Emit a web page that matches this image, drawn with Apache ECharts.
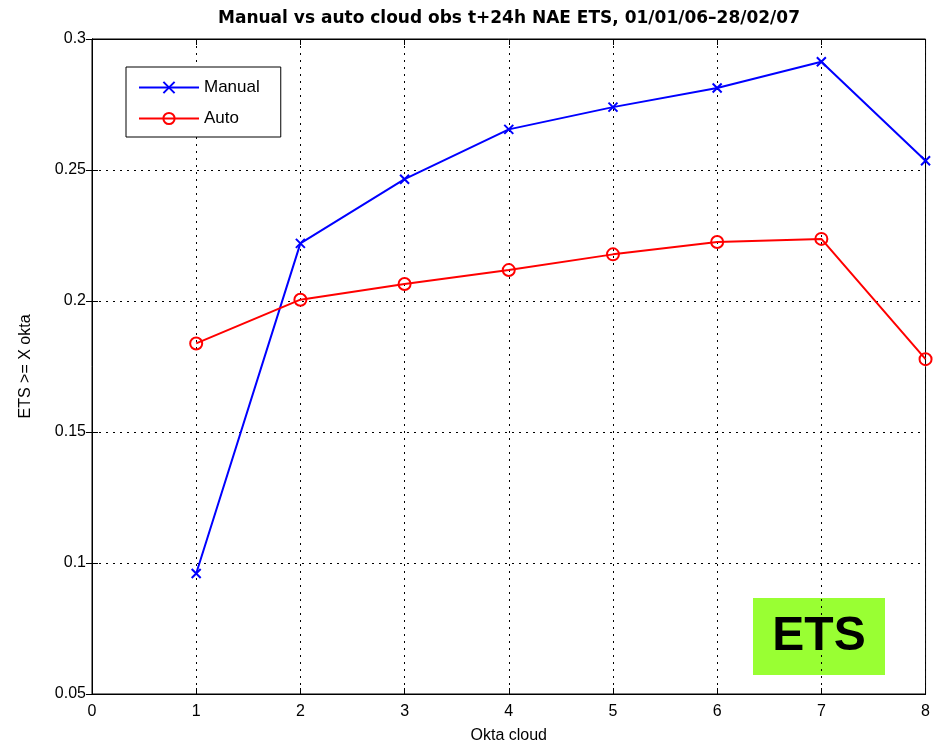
<!DOCTYPE html>
<html>
<head>
<meta charset="utf-8">
<script src="https://cdn.jsdelivr.net/npm/echarts@6/dist/echarts.min.js"></script>
<style>html,body{margin:0;padding:0;background:#fff;overflow:hidden}#c{width:933px;height:749px}</style>
</head>
<body>
<div id="c"></div>
<script>
const oktas = [1, 2, 3, 4, 5, 6, 7, 8];
const manual = [0.096, 0.222, 0.2465, 0.2655, 0.274, 0.2813, 0.2913, 0.2535];
const auto = [0.1838, 0.2005, 0.2065, 0.2118, 0.2178, 0.2225, 0.2237, 0.1778];
const yTicks = ['0.05', '0.1', '0.15', '0.2', '0.25', '0.3'];

const chart = echarts.init(document.getElementById('c'), null, {renderer: 'canvas', width: 933, height: 749});
const font = 'Liberation Sans, Arial, sans-serif';
const gridLine = {show: true, lineStyle: {color: '#000', type: [2, 5], width: 1}};
chart.setOption({
  backgroundColor: '#fff',
  animation: false,
  title: {
    text: 'Manual vs auto cloud obs t+24h NAE ETS, 01/01/06\u201328/02/07',
    left: 504, top: 5, textAlign: 'center',
    textStyle: {fontFamily: 'DejaVu Sans, sans-serif', fontWeight: 'bold', fontSize: 17, color: '#000'}
  },
  grid: {left: 92, right: 5, top: 39, bottom: 52, show: true, borderColor: '#000', borderWidth: 1, backgroundColor: '#fff'},
  legend: {
    orient: 'vertical', left: 126, top: 67,
    padding: [12, 21, 10, 12], itemGap: 14, itemWidth: 60, itemHeight: 14,
    borderColor: '#000', borderWidth: 1, backgroundColor: '#fff',
    textStyle: {fontFamily: font, fontSize: 17, color: '#000'},
    data: ['Manual', 'Auto']
  },
  xAxis: [{
    type: 'value', min: 0, max: 8, interval: 1, position: 'bottom',
    name: 'Okta cloud', nameLocation: 'middle', nameGap: 34,
    nameTextStyle: {fontFamily: font, fontSize: 16, color: '#000'},
    axisLine: {show: true, lineStyle: {color: '#000'}},
    axisTick: {show: true, inside: true, length: 6, lineStyle: {color: '#000'}},
    axisLabel: {fontFamily: font, fontSize: 16, color: '#000', margin: 10},
    splitLine: gridLine
  }, {
    type: 'value', min: 0, max: 8, interval: 1, position: 'top',
    axisLine: {show: true, lineStyle: {color: '#000'}},
    axisTick: {show: true, inside: true, length: 6, lineStyle: {color: '#000'}},
    axisLabel: {show: false}, splitLine: {show: false}
  }],
  yAxis: [{
    type: 'value', min: 0.05, max: 0.3, interval: 0.05, position: 'left',
    name: 'ETS >= X okta', nameLocation: 'middle', nameGap: 58, nameRotate: 90,
    nameTextStyle: {fontFamily: font, fontSize: 16, color: '#000'},
    axisLine: {show: true, lineStyle: {color: '#000'}},
    axisTick: {show: true, inside: true, length: 6, lineStyle: {color: '#000'}},
    axisLabel: {fontFamily: font, fontSize: 16, color: '#000', margin: 6,
      formatter: v => { const s = yTicks.find(t => Math.abs(parseFloat(t) - v) < 1e-6); return s || ''; }},
    splitLine: gridLine
  }, {
    type: 'value', min: 0.05, max: 0.3, interval: 0.05, position: 'right',
    axisLine: {show: true, lineStyle: {color: '#000'}},
    axisTick: {show: true, inside: true, length: 6, lineStyle: {color: '#000'}},
    axisLabel: {show: false}, splitLine: {show: false}
  }],
  series: [{
    name: 'Manual', type: 'line',
    data: oktas.map((x, i) => [x, manual[i]]),
    symbol: 'path://M0,0L10,10M10,0L0,10', symbolSize: 9,
    lineStyle: {color: '#0000ff', width: 2},
    itemStyle: {color: '#0000ff', borderColor: '#0000ff', borderWidth: 2}
  }, {
    name: 'Auto', type: 'line',
    data: oktas.map((x, i) => [x, auto[i]]),
    symbol: 'circle', symbolSize: 12,
    lineStyle: {color: '#ff0000', width: 2},
    itemStyle: {color: 'rgba(255,255,255,0)', borderColor: '#ff0000', borderWidth: 2}
  }],
  graphic: [{
    type: 'group', left: 753, top: 598,
    children: [{
      type: 'rect', shape: {x: 0, y: 0, width: 132, height: 77},
      style: {fill: '#99ff33'}
    }, {
      type: 'text', x: 66, y: 39,
      style: {text: 'ETS', fill: '#000', font: 'bold 48px ' + font, textAlign: 'center', textVerticalAlign: 'middle'}
    }]
  }]
});
</script>
</body>
</html>
